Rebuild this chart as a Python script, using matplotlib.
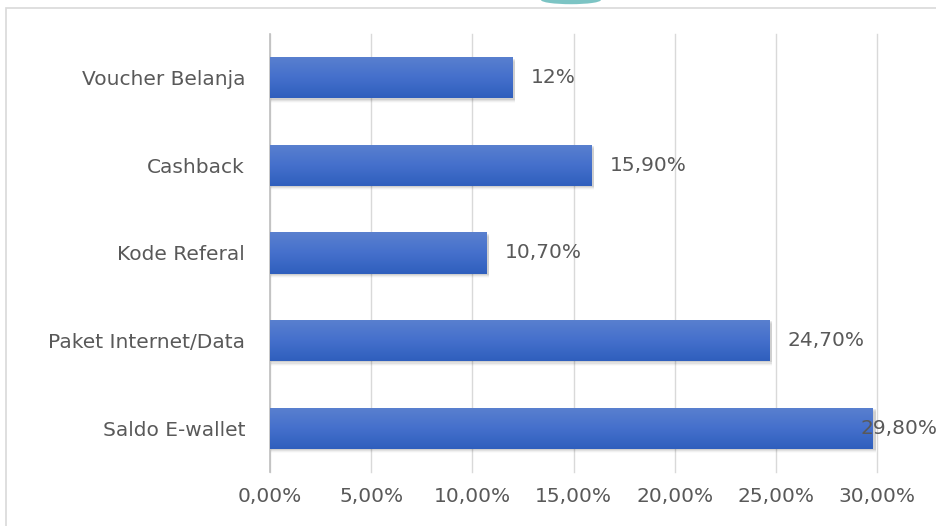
import numpy as np
import matplotlib
matplotlib.use('Agg')
import matplotlib.pyplot as plt
from matplotlib.patches import Rectangle, Ellipse
from matplotlib.ticker import FuncFormatter

# Categories listed bottom to top
categories = ['Saldo E-wallet', 'Paket Internet/Data', 'Kode Referal', 'Cashback', 'Voucher Belanja']
values = [29.8, 24.7, 10.7, 15.9, 12.0]
value_labels = ['29,80%', '24,70%', '10,70%', '15,90%', '12%']
x_ticks = [0, 5, 10, 15, 20, 25, 30]

plt.rcParams['font.family'] = ['DejaVu Sans']
text_colour = '#595959'
font_size = 14.5

figure = plt.figure(figsize=(9.36, 5.26), dpi=100)
axis = figure.add_axes([0.2885, 0.1027, 0.6485, 0.8327])

# Outer chart border and the arc peeking in from above
figure.patches.append(Rectangle((0.006, -0.1), 1.2, 1.085, transform=figure.transFigure,
                                fill=False, edgecolor='#d9d9d9', linewidth=1.2, zorder=0))
figure.patches.append(Ellipse((0.61, 1.0), 0.064, 0.016, transform=figure.transFigure,
                              facecolor='#7cc4c4', edgecolor='none', zorder=0))

bar_height = 0.47
positions = np.arange(len(categories))

# Vertical gradient used to fill each bar
gradient = np.linspace(0, 1, 64).reshape(-1, 1)
cmap = matplotlib.colors.LinearSegmentedColormap.from_list('bar', ['#2f5fbd', '#4570cc', '#5a80cf'])

for y, v in zip(positions, values):
    # Soft shadow below the bar
    for k, a in enumerate([0.08, 0.06, 0.04, 0.02]):
        shadow = Rectangle((0.05, y - bar_height / 2 - 0.015 - 0.012 * k), v + 0.08, bar_height,
                           facecolor='black', alpha=a, edgecolor='none', zorder=1)
        axis.add_patch(shadow)
    bar = Rectangle((0, y - bar_height / 2), v, bar_height, facecolor='none', edgecolor='none', zorder=2)
    axis.add_patch(bar)
    image = axis.imshow(gradient, cmap=cmap, aspect='auto', origin='lower',
                        extent=(0, v, y - bar_height / 2, y + bar_height / 2), zorder=2)
    image.set_clip_path(bar)

for y, v, lab in zip(positions, values, value_labels):
    dx = 13 if v < 29 else -9
    axis.annotate(lab, xy=(v, y), xytext=(dx, 0), textcoords='offset points',
                  ha='left', va='center', fontsize=font_size, color=text_colour, zorder=3,
                  annotation_clip=False)

axis.set_xlim(0, 30)
axis.set_ylim(-0.5, len(categories) - 0.5)
axis.set_xticks(x_ticks)
axis.xaxis.set_major_formatter(FuncFormatter(lambda x, p: ('%.2f%%' % x).replace('.', ',')))
axis.set_yticks(positions)
axis.set_yticklabels(categories)
axis.grid(True, axis='x', color='#d9d9d9', linewidth=1, clip_on=False)
axis.set_axisbelow(True)
for side in ['top', 'right', 'bottom']:
    axis.spines[side].set_visible(False)
axis.spines['left'].set_color('#bfbfbf')
axis.spines['left'].set_linewidth(1.2)
axis.spines['left'].set_zorder(1.5)
axis.tick_params(axis='both', length=0, labelsize=font_size, labelcolor=text_colour)
axis.tick_params(axis='y', pad=18)
axis.tick_params(axis='x', pad=11)

plt.savefig('out.png', dpi=100)
